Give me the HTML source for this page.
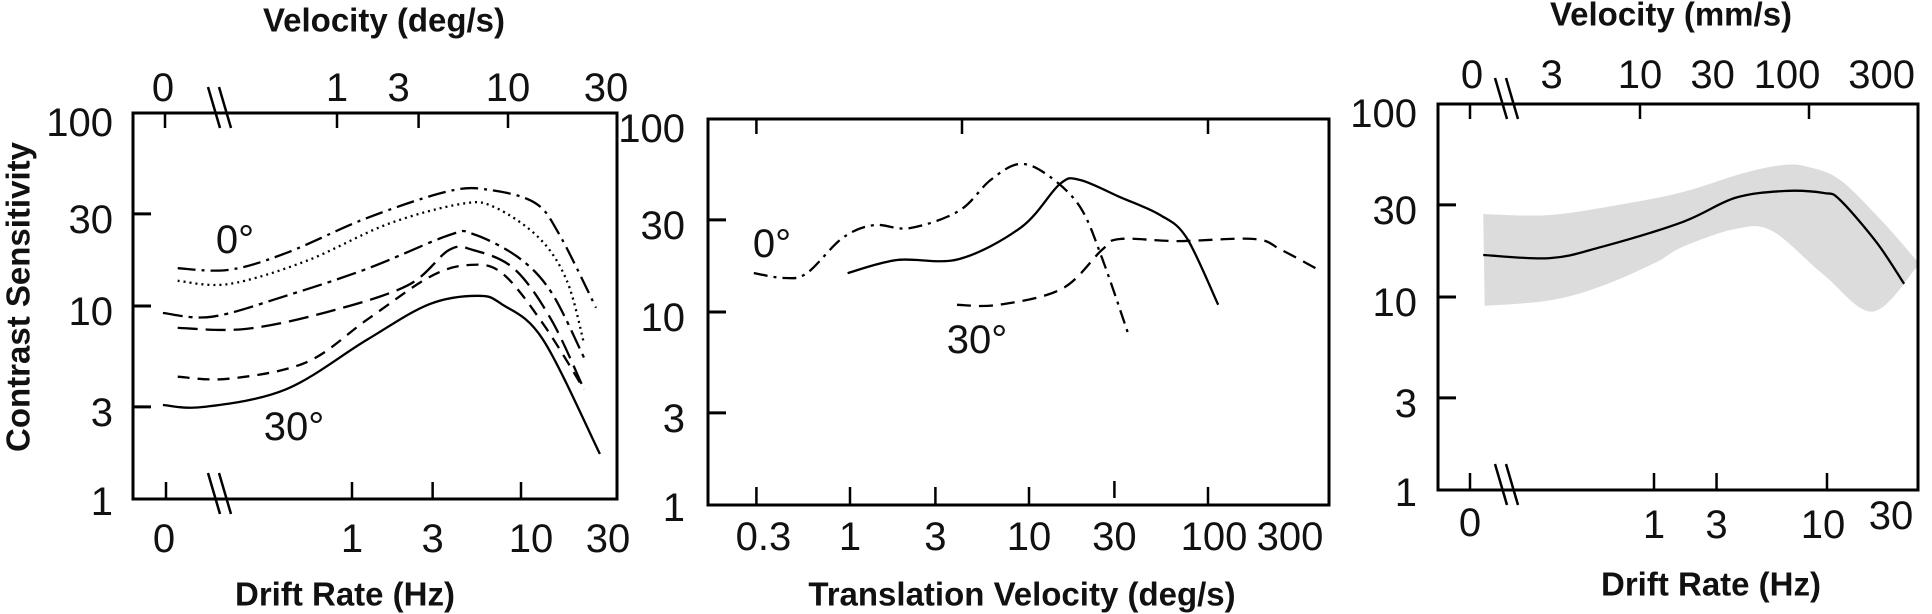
<!DOCTYPE html>
<html><head><meta charset="utf-8"><style>
html,body{margin:0;padding:0;background:#fff;}
svg{display:block;}
text{font-family:"Liberation Sans",Arial,sans-serif;fill:#111;}
.tk{font-size:40px;}
.ti{font-size:33px;font-weight:bold;}
</style></head><body>
<svg id="fig" width="1932" height="614" viewBox="0 0 1932 614" xmlns="http://www.w3.org/2000/svg">
<g id="p1"></g>
<g id="p2"></g>
<g id="p3"></g>
</svg>
<script>
// ---------- Panel 1 data (Drift rate Hz vs contrast sensitivity) ----------
const p1A_x=[0.093,0.187,0.407,1.23,3.75,6.56,12.1,16.8,27.8];
const p1A_y=[15.7,15.4,18.8,28.6,39.4,39.9,34.2,23.6,9.8];
const p1B_x=[0.093,0.187,0.535,1.63,4.42,6.92,12.8,18.7,23.6];
const p1B_y=[13.5,13.0,17.1,26.6,33.8,32.6,22.5,13.5,6.4];
const p1C_x=[0.076,0.149,0.407,1.23,3.75,5.2,9.6,15.1,23.6];
const p1C_y=[9.2,8.8,11.3,15.6,23.3,23.6,17.9,11.8,5.4];
const p1D_x=[0.093,0.233,0.71,2.14,3.75,5.2,9.1,15.1,23.6];
const p1D_y=[7.7,7.6,9.3,12.8,19.5,19.5,15.6,8.5,3.7];
const p1E_x=[0.093,0.187,0.535,1.23,2.86,4.92,7.72,13.5,23.6];
const p1E_y=[4.3,4.2,5.1,8.5,14.1,16.3,14.8,8.1,3.7];
const p1F_x=[0.076,0.133,0.407,1.23,2.86,5.57,7.72,13.5,29.3];
const p1F_y=[3.07,3.0,3.7,6.7,10.2,11.3,10.2,6.7,1.71];
const p1BottomTicks=[1,3,10,30];
const p1TopTicks=[1,3,10,30];
const yTicks=[100,30,10,3,1];
// ---------- Panel 2 data (translation velocity deg/s) ----------
const p2Zero_x=[0.29,0.43,0.575,0.91,1.36,2.16,4.06,6.1,8.9,12.9,19.3,25.6,36.2];
const p2Zero_y=[15.9,15.0,15.9,24.2,28.2,27.2,33.4,48.3,58.5,50.7,35.0,19.0,7.5];
const p2Solid_x=[0.97,1.83,4.06,9.1,14.9,19.3,32.2,54,76,114];
const p2Solid_y=[15.9,18.6,18.8,27.6,46.1,48.3,39.4,31.8,24.2,10.9];
const p2Thirty_x=[3.96,6.8,15.3,25.6,32.2,68,181,256,417];
const p2Thirty_y=[10.9,10.9,13.2,21.0,23.9,23.3,23.9,21.0,16.5];
const p2Ticks=[0.3,1,3,10,30,100,300];
// ---------- Panel 3 data ----------
const p3Line_x=[0.103,0.25,0.5,1.47,2.94,5.64,9.6,11.9,19.5,27.9];
const p3Line_y=[16.5,15.9,18.2,24.5,32.6,35.4,34.6,31.8,19.0,11.7];
const p3Up_x=[0.103,0.25,0.66,1.47,3.31,5.64,7.77,11.9,20.5,33.1];
const p3Up_y=[26.9,26.6,30.3,35.0,43.9,48.3,47.2,40.4,25.1,15.4];
const p3Lo_x=[0.105,0.25,0.5,1.01,1.47,2.94,4.81,9.6,18.4,33.1];
const p3Lo_y=[9.0,9.6,11.4,15.0,18.2,22.5,22.0,13.0,8.4,14.3];
const p3BottomTicks=[1,3,10,30];
const p3TopTicks=[3,10,30,100,300];

const NS='http://www.w3.org/2000/svg';
function mk(parent,tag,attrs){const e=document.createElementNS(NS,tag);for(const k in attrs)e.setAttribute(k,attrs[k]);parent.appendChild(e);return e;}
function logScale(v1,p1,v2,p2){return v=>p1+(Math.log10(v)-Math.log10(v1))/(Math.log10(v2)-Math.log10(v1))*(p2-p1);}
function smooth(pts){let d='M'+pts[0][0].toFixed(1)+','+pts[0][1].toFixed(1);
 for(let i=0;i<pts.length-1;i++){const p0=pts[i-1]||pts[i],p1=pts[i],p2=pts[i+1],p3=pts[i+2]||p2;
  const c1=[p1[0]+(p2[0]-p0[0])/6,p1[1]+(p2[1]-p0[1])/6],c2=[p2[0]-(p3[0]-p1[0])/6,p2[1]-(p3[1]-p1[1])/6];
  d+=' C'+c1.map(v=>v.toFixed(1))+' '+c2.map(v=>v.toFixed(1))+' '+p2.map(v=>v.toFixed(1));}
 return d;}
function txt(g,x,y,s,cls,anchor){const t=mk(g,'text',{x:x,y:y,class:cls,'text-anchor':anchor||'middle','dominant-baseline':'central'});t.textContent=s;return t;}
function frame(g,l,t,r,b){const f=mk(g,'rect',{x:l,y:t,width:r-l,height:b-t,fill:'none',stroke:'#000','stroke-width':3});
 
 }
function curve(g,xs,ys,sx,sy,dash,name,w){const p=mk(g,'path',{d:smooth(xs.map((v,i)=>[sx(v),sy(ys[i])])),fill:'none',stroke:'#000','stroke-width':w||2.3});
 if(dash)p.setAttribute('stroke-dasharray',dash);
 
 }
function brk(g,x,y){for(const dx of [0,11]){const l=mk(g,'line',{x1:x-7+dx,y1:y-26,x2:x+5+dx,y2:y+15,stroke:'#000','stroke-width':2.5});
 
 }}
function yAxis(g,l,sy,labelRight,tickLens){yTicks.forEach((v,i)=>{const y=sy(v);
 if(v!==100&&v!==1){const tk=mk(g,'line',{x1:l,y1:y,x2:l+tickLens,y2:y,stroke:'#000','stroke-width':3});
 
 }
 const t=txt(g,labelRight,y+(v===100?10:v===1?3:6),String(v),'tk','end');
 
 });}
function xTick(g,x,yb,dir,len){const tk=mk(g,'line',{x1:x,y1:yb,x2:x,y2:yb+dir*len,stroke:'#000','stroke-width':2.5});
 
 }

// ===== Panel 1 =====
(function(){const g=document.getElementById('p1');
 const L=133,T=113,R=617,B=499;
 const sx=logScale(1,352,10,521), sy=logScale(100,T,1,B), sxTop=logScale(1,337,10,508);
 frame(g,L,T,R,B);
 yAxis(g,L,sy,113,18);
 xTick(g,166,B,-1,17);xTick(g,165,T,1,15);
 const z=txt(g,164,539,'0','tk');
 const zt=txt(g,163,88,'0','tk');
 p1BottomTicks.forEach(v=>{if(v<30)xTick(g,sx(v),B,-1,17);
  const t=txt(g,v===30?608:sx(v)+(v===10?10:0),539,String(v),'tk');
  
  });
 p1TopTicks.forEach(v=>{if(v<30)xTick(g,sxTop(v),T,1,15);
  const t=txt(g,v===30?606:sxTop(v)+(v===3?-20:0),88,String(v),'tk');
  
  });
 brk(g,215,T);brk(g,215,B);
 curve(g,p1A_x,p1A_y,sx,sy,'18,6,3,6','curve-0deg');
 curve(g,p1B_x,p1B_y,sx,sy,'2,4','curve-dotted');
 curve(g,p1C_x,p1C_y,sx,sy,'20,6,4,6','curve-dashdot');
 curve(g,p1D_x,p1D_y,sx,sy,'20,8','curve-longdash');
 curve(g,p1E_x,p1E_y,sx,sy,'12,8','curve-shortdash');
 curve(g,p1F_x,p1F_y,sx,sy,null,'curve-30deg');
 let t=txt(g,235,240,'0°','tk');
 t=txt(g,294,427,'30°','tk');
 t=txt(g,384,20,'Velocity (deg/s)','ti');
 t=txt(g,345,594,'Drift Rate (Hz)','ti');
 t=txt(g,0,0,'Contrast Sensitivity','ti');t.setAttribute('transform','translate(18,297) rotate(-90)');
 
 
})();

// ===== Panel 2 =====
(function(){const g=document.getElementById('p2');
 const L=708,T=119,R=1329,B=505;
 const sx=logScale(1,850,100,1208), sy=logScale(100,T,1,B);
 frame(g,L,T,R,B);
 yAxis(g,L,sy,685,18);
 p2Ticks.forEach(v=>{const x=sx(v);
  if(v<300){if(v===30)mk(g,'line',{x1:x,y1:B-7,x2:x,y2:B-24,stroke:'#000','stroke-width':2.5});else xTick(g,x,B,-1,18);}
  const t=txt(g,v===300?1290:x+(v===0.3?7:0)+(v===100?6:0),537,String(v),'tk');
  
  });
 [0.3,10,100].forEach(v=>xTick(g,sx(v)-(v===10?67:0),T,1,15));
 curve(g,p2Zero_x,p2Zero_y,sx,sy,'14,6,3,6','curve-0deg');
 curve(g,p2Solid_x,p2Solid_y,sx,sy,null,'curve-solid');
 curve(g,p2Thirty_x,p2Thirty_y,sx,sy,'14,8','curve-30deg');
 let t=txt(g,772,244,'0°','tk');
 t=txt(g,977,340,'30°','tk');
 t=txt(g,1022,594,'Translation Velocity (deg/s)','ti');
})();

// ===== Panel 3 =====
(function(){const g=document.getElementById('p3');
 const L=1438,T=104,R=1918,B=490;
 const sx=logScale(1,1654,10,1827), sy=logScale(100,T,1,B), sxTop=logScale(10,1640,100,1809);
 const band=mk(g,'path',{d:smooth(p3Up_x.map((v,i)=>[sx(v),sy(p3Up_y[i])]))+' L'+smooth(p3Lo_x.map((v,i)=>[sx(v),sy(p3Lo_y[i])]).reverse()).slice(1)+' Z',fill:'#dcdcdc',stroke:'none'});
 
 
 frame(g,L,T,R,B);
 yAxis(g,L,sy,1417,18);
 xTick(g,1470,B,-1,17);xTick(g,1470,T,1,15);
 let t=txt(g,1470,523,'0','tk');
 t=txt(g,1472,75,'0','tk');
 p3BottomTicks.forEach(v=>{if(v<30)xTick(g,sx(v)+(v===3?-20:0),B,-1,17);
  const t=txt(g,v===30?1891:sx(v)+(v===3?-20:0)+(v===10?-4:0),v===30?516:525,String(v),'tk');
  
  });
 p3TopTicks.forEach(v=>{if(v===10||v===100)xTick(g,sxTop(v),T,1,15);
  const t=txt(g,sxTop(v)+(v===300?-8:0)+(v===30?-8:0)+(v===100?-22:0),75,String(v),'tk');
  
  });
 brk(g,1502,T);brk(g,1502,B);
 curve(g,p3Line_x,p3Line_y,sx,sy,null,'mean-curve',2.3);
 t=txt(g,1671,14,'Velocity (mm/s)','ti');
 t=txt(g,1711,584,'Drift Rate (Hz)','ti');
})();
</script>
</body></html>
